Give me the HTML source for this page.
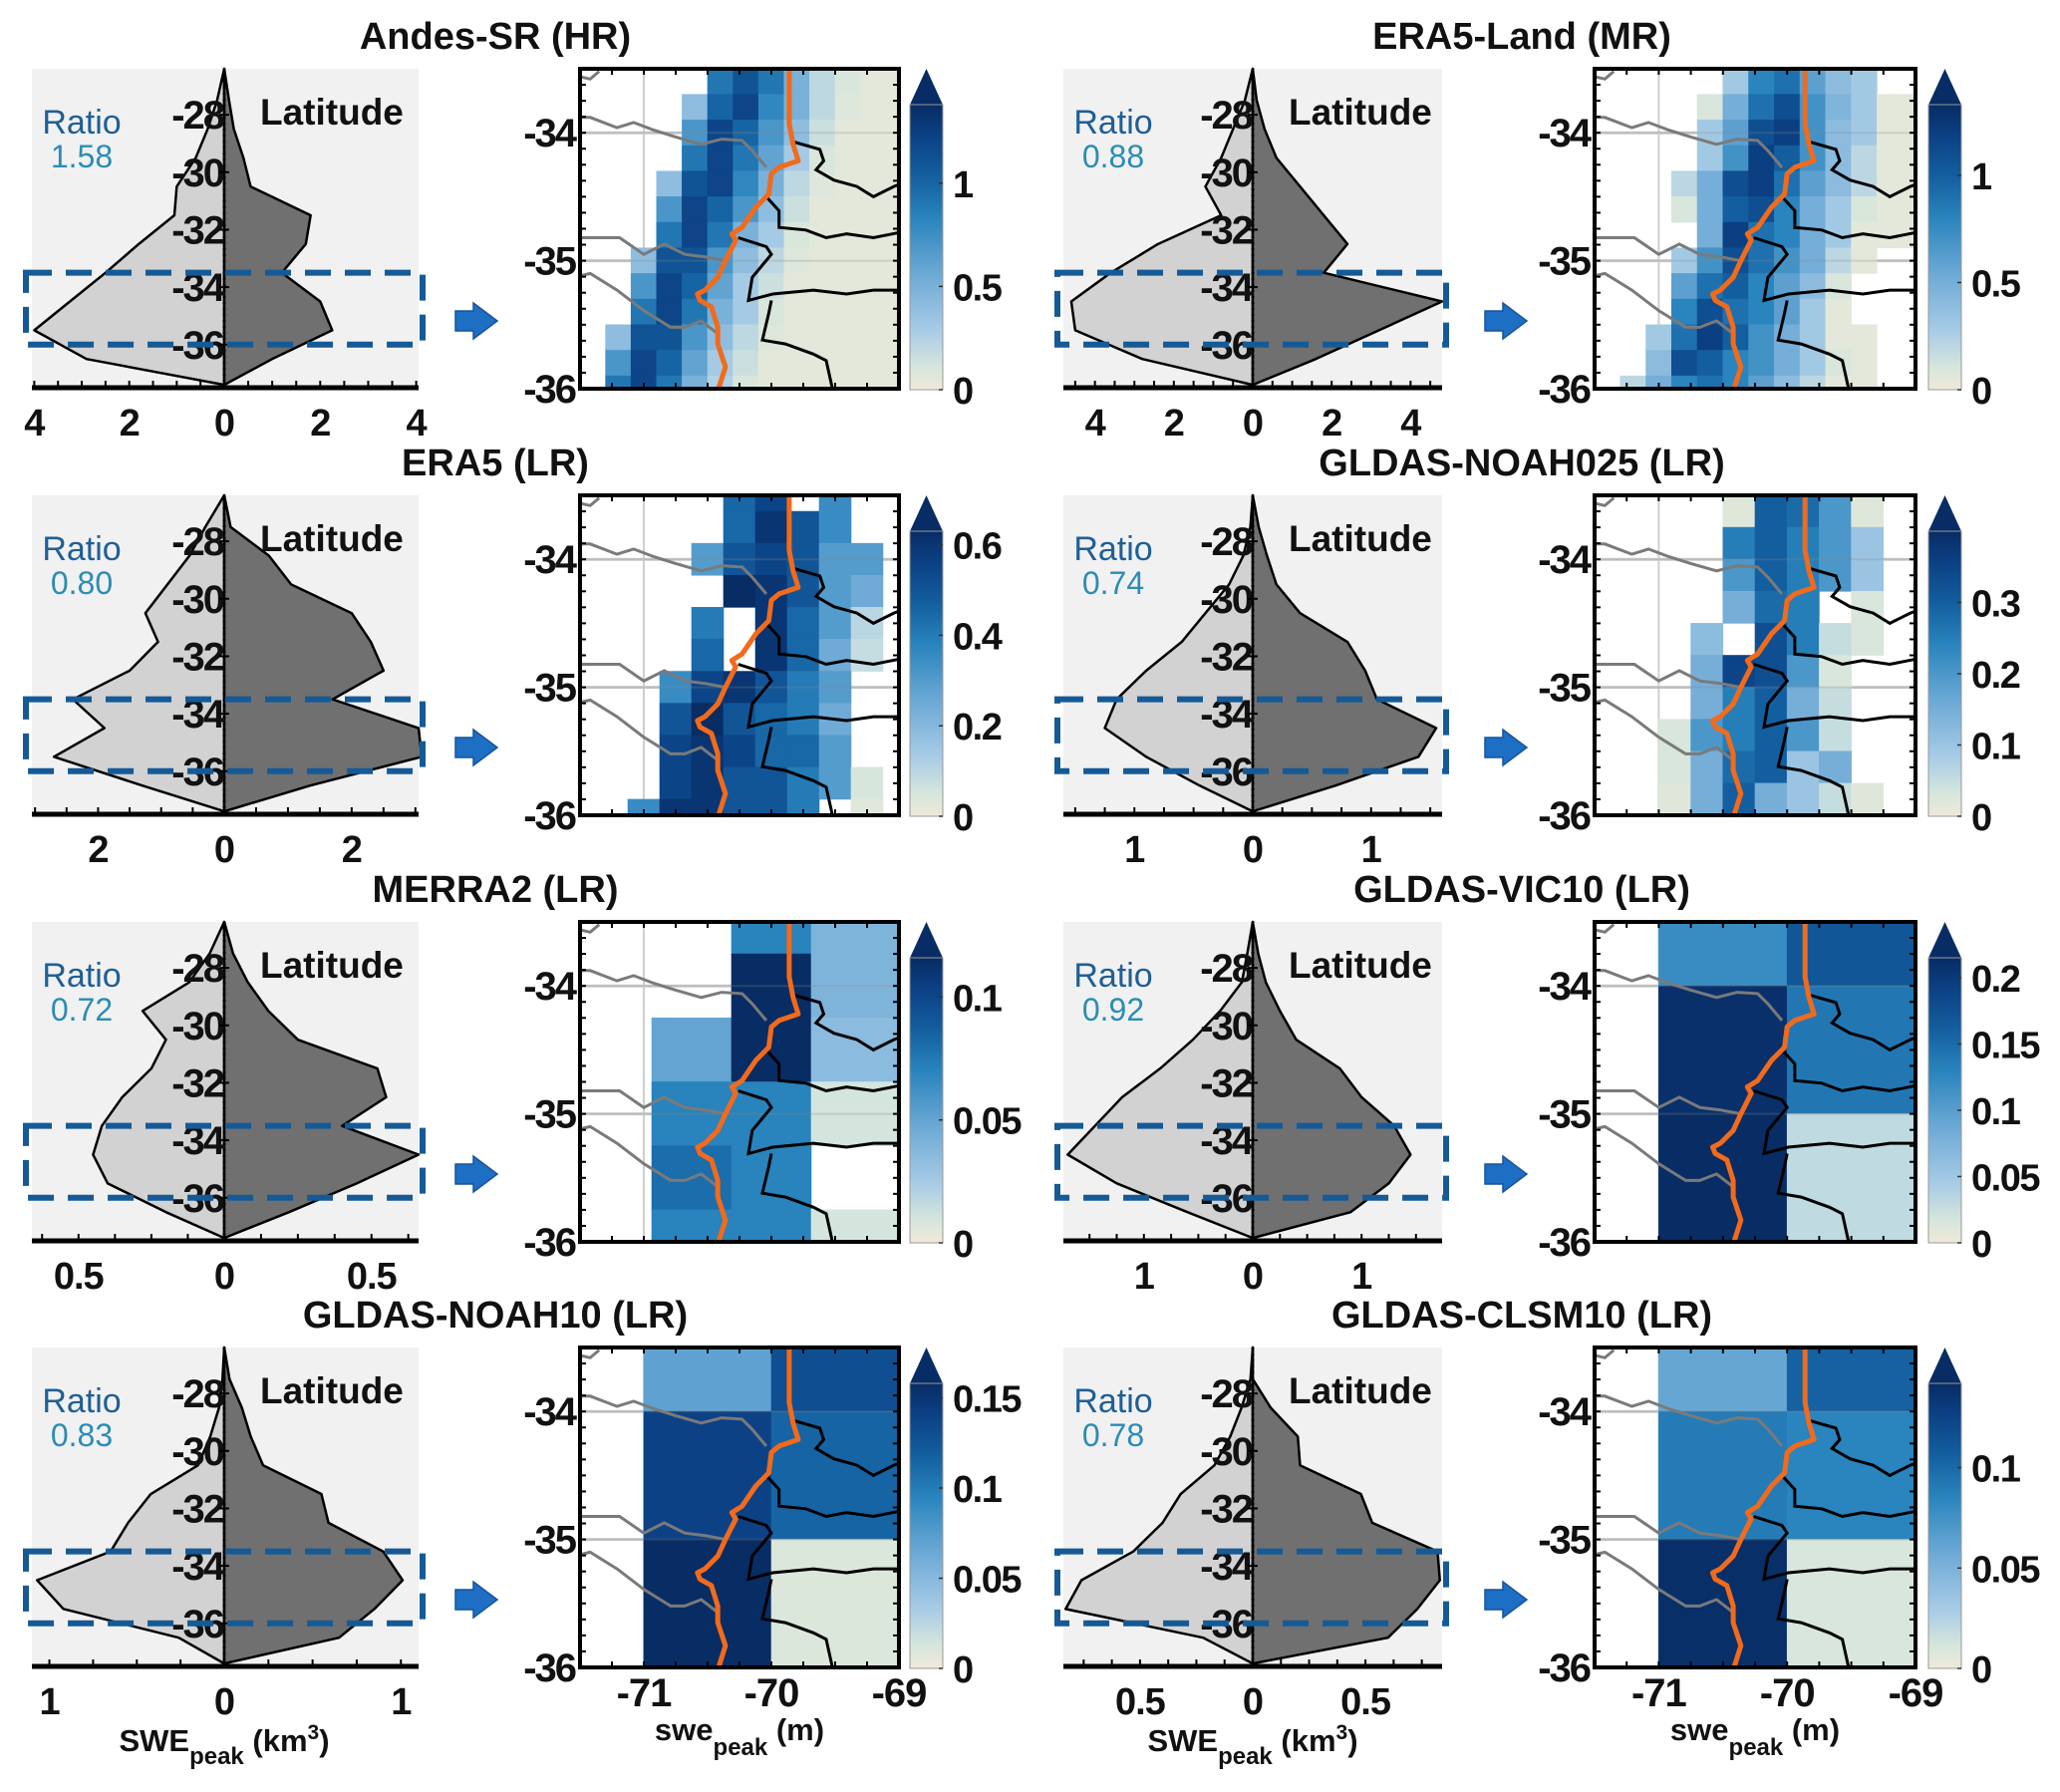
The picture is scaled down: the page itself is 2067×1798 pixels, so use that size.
<!DOCTYPE html>
<html><head><meta charset="utf-8">
<style>
html,body{margin:0;padding:0;background:#fff;}
svg{display:block;font-family:"Liberation Sans",Arial,sans-serif;}
</style></head>
<body>
<svg id="fig" xmlns="http://www.w3.org/2000/svg" width="2067" height="1798" viewBox="0 0 2067 1798"></svg>
<script>
// ---------- DATA ----------
const lats = [-26.4,-27.5,-28.5,-29.5,-30.5,-31.5,-32.5,-33.5,-34.5,-35.5,-36.5,-37.4];
const titles = ["Andes-SR (HR)","ERA5-Land (MR)","ERA5 (LR)","GLDAS-NOAH025 (LR)","MERRA2 (LR)","GLDAS-VIC10 (LR)","GLDAS-NOAH10 (LR)","GLDAS-CLSM10 (LR)"];
const ratios = ["1.58","0.88","0.80","0.74","0.72","0.92","0.83","0.78"];
const andesL = [0,0.15,0.35,0.6,1.0,1.05,1.8,2.5,3.25,4.0,2.9,0];
const andesR = [0,0.1,0.2,0.4,0.55,1.8,1.7,1.2,2.0,2.25,1.0,0];
const era5lL = [0,0.2,0.5,0.8,1.2,0.8,2.4,3.6,4.6,4.5,2.8,0];
const era5lR = [0,0.1,0.3,0.6,1.2,1.8,2.4,1.8,4.8,3.2,1.6,0];
const era5L = [0,0.3,0.55,0.9,1.25,1.05,1.5,2.4,1.9,2.7,1.3,0];
const era5R = [0,0.1,0.7,1.05,2.0,2.3,2.5,1.7,3.05,3.1,1.35,0];
const noah025L = [0,0.02,0.08,0.2,0.4,0.6,0.9,1.15,1.25,0.9,0.45,0];
const noah025R = [0,0.05,0.12,0.2,0.4,0.8,0.95,1.05,1.55,1.4,0.7,0];
const merraL = [0,0.05,0.12,0.28,0.2,0.25,0.35,0.42,0.45,0.4,0.2,0];
const merraR = [0,0.03,0.08,0.15,0.25,0.52,0.55,0.4,0.66,0.45,0.22,0];
const vicL = [0,0.05,0.1,0.3,0.55,0.85,1.2,1.45,1.7,1.25,0.6,0];
const vicR = [0,0.05,0.12,0.25,0.4,0.8,1.0,1.3,1.45,1.25,0.9,0];
const noah10L = [0,0.01,0.03,0.08,0.15,0.42,0.55,0.65,1.07,0.92,0.26,0];
const noah10R = [0,0.03,0.1,0.15,0.22,0.55,0.59,0.9,1.01,0.85,0.65,0];
const clsmL = [0,0.01,0.05,0.1,0.17,0.32,0.4,0.53,0.76,0.83,0.22,0];
const clsmR = [0,0,0.08,0.2,0.21,0.48,0.53,0.82,0.83,0.73,0.6,0];
const profXmax = [4.05,4.8,3.05,1.6,0.66,1.74,1.1,0.84];
const profTicks = [[-4,-2,0,2,4],[-4,-2,0,2,4],[-2,0,2],[-1,0,1],[-0.5,0,0.5],[-1,0,1],[-1,0,1],[-0.5,0,0.5]];
const cbMax = [1.38,1.33,0.63,0.4,0.116,0.215,0.158,0.142];
const cbTicks = [[0,0.5,1],[0,0.5,1],[0,0.2,0.4,0.6],[0,0.1,0.2,0.3],[0,0.05,0.1],[0,0.05,0.1,0.15,0.2],[0,0.05,0.1,0.15],[0,0.05,0.1]];
const latTicksProf = [-28,-30,-32,-34,-36];
const latTicksMap = [-34,-35,-36];
const lonTicksMap = [-71,-70,-69];
// grids
const lon02 = [-71.5,-71.3,-71.1,-70.9,-70.7,-70.5,-70.3,-70.1,-69.9,-69.7,-69.5,-69.3,-68.9];
const lat02 = [-33.5,-33.7,-33.9,-34.1,-34.3,-34.5,-34.7,-34.9,-35.1,-35.3,-35.5,-35.7,-35.9,-36.0];
const n = null;
const andesGrid = [
[n,n,n,n,n,.9,1.1,.9,.5,.2,.1,.05],
[n,n,n,n,.4,1.0,1.2,.8,.5,.2,.08,.05],
[n,n,n,n,.7,1.2,1.0,.7,.4,.15,.05,.05],
[n,n,n,n,.9,1.2,.9,.6,.3,.1,.05,.05],
[n,n,n,.4,1.1,1.2,.8,.5,.2,.08,.05,.05],
[n,n,n,.7,1.2,1.0,.7,.4,.15,.05,.05,.05],
[n,n,n,.9,1.2,.9,.5,.3,.1,.05,.05,.05],
[n,n,.4,1.1,1.1,.7,.4,.2,.08,.05,.05,.05],
[n,n,.7,1.2,1.0,.6,.3,.15,.05,.05,.05,.05],
[n,n,.9,1.2,.9,.5,.3,.1,.05,.05,.05,.05],
[n,.4,1.1,1.1,.7,.4,.2,.08,.05,.05,.05,.05],
[n,.7,1.2,1.0,.6,.3,.15,.05,.05,.05,.05,.05],
[n,.9,1.2,.9,.5,.25,.1,.05,.05,.05,.05,.05]];
const era5lGrid = [
[n,n,n,n,n,.3,.8,.9,.6,.4,.3,n],
[n,n,n,n,.1,.5,.9,1.1,.7,.45,.3,.05],
[n,n,n,n,.3,.6,1.1,1.2,.7,.4,.3,.05],
[n,n,n,n,.3,.7,1.2,1.0,.7,.4,.2,.05],
[n,n,n,.2,.5,1.1,1.2,.9,.6,.4,.2,.05],
[n,n,n,.1,.5,1.0,1.1,.8,.5,.3,.1,.05],
[n,n,n,n,.5,1.2,.9,.8,.5,.3,.05,.05],
[n,n,n,.3,.7,1.1,.9,.7,.5,.2,.05,n],
[n,n,n,.6,.9,1.0,.8,.6,.4,.1,n,n],
[n,n,n,.8,1.1,.9,.8,.6,.3,.05,n,n],
[n,n,.3,.9,1.2,1.0,.7,.5,.3,.05,.05,n],
[n,n,.4,1.1,1.0,.8,.7,.5,.3,.1,.05,n],
[n,.2,.5,.8,.9,.8,.6,.4,.2,.05,.05,n]];
const lonE5 = [-71.125,-70.875,-70.625,-70.375,-70.125,-69.875,-69.625,-69.375,-69.125,-68.875];
const latE5 = [-33.5,-33.625,-33.875,-34.125,-34.375,-34.625,-34.875,-35.125,-35.375,-35.625,-35.875,-36];
const era5Grid = [
[n,n,n,.45,.55,n,.35,n,n],
[n,n,n,.45,.6,.5,.35,n,n],
[n,n,.3,.5,.55,.5,.3,.3,n],
[n,n,n,.65,.6,.5,.3,.25,n],
[n,n,.4,n,.6,.45,.3,.1,n],
[n,n,.45,n,.6,.45,.25,.08,n],
[n,.35,.55,.6,.5,.4,.3,n,n],
[n,.5,.65,.5,.45,.4,.25,n,n],
[n,.55,.6,.55,.45,.45,.3,n,n],
[n,.55,.6,.5,.5,.4,.3,.05,n],
[.35,.6,.6,.5,.5,.4,n,.03,n]];
const lonN25 = [-71,-70.75,-70.5,-70.25,-70,-69.75,-69.5,-69.25];
const latN25 = [-33.5,-33.75,-34,-34.25,-34.5,-34.75,-35,-35.25,-35.5,-35.75,-36];
const noah025Grid = [
[n,n,.02,.3,.28,.2,.02],
[n,n,.25,.3,.25,.2,.1],
[n,n,.2,.3,.25,.2,.1],
[n,n,.15,.28,.25,n,.03],
[n,.12,n,.33,.25,.05,.03],
[n,.15,.35,.33,.2,.03,n],
[n,.15,.25,.3,.15,.05,n],
[.03,.2,.25,.3,.2,.05,n],
[.03,.15,.28,.3,.1,.15,n],
[.02,.15,.3,.15,.1,.05,.02]];
const lonM2 = [-70.9375,-70.3125,-69.6875,-69.0];
const latM2 = [-33.5,-33.75,-34.25,-34.75,-35.25,-35.75,-36];
const merraGrid = [[n,.07,.04],[n,.12,.04],[.05,.12,.035],[.07,.07,.01],[.08,.07,n],[.07,.07,.01]];
const lon1 = [-71,-70,-69];
const lat1 = [-33.5,-34,-35,-36];
const vicGrid = [[.12,.17],[.21,.14],[.22,.03]];
const noah10Grid = [[.07,.13],[.14,.115],[.17,.01]];
const clsmGrid = [[.06,.105],[.09,.085],[.14,.01]];
// geography (lon, lat)
const divideLine = [[-69.86,-33.45],[-69.86,-33.93],[-69.83,-34.09],[-69.79,-34.22],[-69.94,-34.27],[-70.0,-34.32],[-70.02,-34.48],[-70.12,-34.58],[-70.23,-34.74],[-70.31,-34.79],[-70.28,-34.84],[-70.36,-35.0],[-70.42,-35.13],[-70.52,-35.23],[-70.58,-35.26],[-70.56,-35.31],[-70.47,-35.36],[-70.42,-35.52],[-70.42,-35.65],[-70.36,-35.83],[-70.42,-36.02]];
const blackLines = [
[[-69.83,-34.07],[-69.62,-34.13],[-69.59,-34.22],[-69.65,-34.29],[-69.51,-34.37],[-69.33,-34.42],[-69.2,-34.5],[-69.04,-34.42],[-68.9,-34.37]],
[[-70.04,-34.5],[-69.94,-34.61],[-69.94,-34.74],[-69.73,-34.76],[-69.57,-34.82],[-69.41,-34.79],[-69.2,-34.82],[-68.9,-34.76]],
[[-70.26,-34.82],[-70.04,-34.89],[-70.0,-34.95],[-70.15,-35.13],[-70.18,-35.31],[-69.99,-35.26],[-69.67,-35.23],[-69.41,-35.26],[-69.2,-35.23],[-68.9,-35.23]],
[[-70.0,-35.31],[-70.02,-35.41],[-70.07,-35.62],[-69.89,-35.65],[-69.67,-35.73],[-69.57,-35.78],[-69.51,-36.05]]];
const grayLines = [
[[-71.55,-33.88],[-71.42,-33.88],[-71.21,-33.96],[-71.08,-33.92],[-70.92,-33.98],[-70.76,-34.03],[-70.55,-34.09],[-70.39,-34.05],[-70.23,-34.06],[-70.15,-34.14],[-70.04,-34.27]],
[[-71.55,-34.82],[-71.37,-34.82],[-71.19,-34.82],[-71.0,-34.95],[-70.84,-34.87],[-70.68,-34.95],[-70.52,-34.97],[-70.36,-35.0]],
[[-71.55,-35.13],[-71.42,-35.1],[-71.21,-35.23],[-71.0,-35.39],[-70.79,-35.52],[-70.68,-35.52],[-70.55,-35.47],[-70.42,-35.57]],
[[-71.55,-33.55],[-71.42,-33.58],[-71.35,-33.52]]];

// ---------- LAYOUT ----------
const profL=[andesL,era5lL,era5L,noah025L,merraL,vicL,noah10L,clsmL];
const profR=[andesR,era5lR,era5R,noah025R,merraR,vicR,noah10R,clsmR];
const grids=[[lon02,lat02,andesGrid],[lon02,lat02,era5lGrid],[lonE5,latE5,era5Grid],[lonN25,latN25,noah025Grid],[lonM2,latM2,merraGrid],[lon1,lat1,vicGrid],[lon1,lat1,noah10Grid],[lon1,lat1,clsmGrid]];
const rowTop=[69,497,925,1352];
const colGeom=[{px0:32,px1:420,pz:225,mx0:582,mx1:902,cx0:913,cx1:946,ax:457,tx:497},
               {px0:1067,px1:1447,pz:1257,mx0:1600,mx1:1922,cx0:1935,cx1:1968,ax:1490,tx:1527}];
const H=322;
const NS="http://www.w3.org/2000/svg";
const svg=document.getElementById('fig');
function el(tag,attrs,parent){const e=document.createElementNS(NS,tag);for(const k in attrs)e.setAttribute(k,attrs[k]);(parent||svg).appendChild(e);return e;}
function nm(e,name,inter){
  
  
}
function txt(s,attrs,parent){const t=el('text',attrs,parent);t.textContent=s;return t;}
const stops=[[0,[239,233,217]],[0.08,[214,230,220]],[0.2,[170,205,230]],[0.4,[110,170,214]],[0.6,[42,132,189]],[0.75,[19,94,159]],[0.9,[11,63,130]],[1,[8,44,100]]];
function cmap(t){t=Math.max(0,Math.min(1,t));for(let i=1;i<stops.length;i++){if(t<=stops[i][0]){const a=stops[i-1],b=stops[i];const f=(t-a[0])/(b[0]-a[0]);const c=a[1].map((v,j)=>Math.round(v+(b[1][j]-v)*f));return `rgb(${c[0]},${c[1]},${c[2]})`;}}return 'rgb(8,44,100)';}
const defs=el('defs',{});
const grad=el('linearGradient',{id:'cbgrad',x1:0,y1:1,x2:0,y2:0},defs);
stops.forEach(s=>{el('stop',{offset:s[0],'stop-color':cmap(s[0])},grad);});

for(let p=0;p<8;p++){
  const row=Math.floor(p/2), col=p%2, g=colGeom[col], top=rowTop[row];
  const grp=el('g',{});
  nm(grp,'panel-'+titles[p].toLowerCase().replace(/[^a-z0-9]+/g,'-').replace(/-$/,''),false);
  const t=txt(titles[p],{x:g.tx,y:top-20,'text-anchor':'middle','font-size':38,'font-weight':'bold',fill:'#111'},grp);
  nm(t,'panel-title',false);
  // ----- profile -----
  const yP=lat=>top+(-26.4-lat)/11.1*(H-2);
  const hw=(g.px1-g.pz), hwl=(g.pz-g.px0);
  const xl=v=>g.pz-v/profXmax[p]*hwl, xr=v=>g.pz+v/profXmax[p]*hw;
  const bg=el('rect',{x:g.px0,y:top,width:g.px1-g.px0,height:H-2,fill:'#f1f1f1'},grp);
  nm(bg,'profile-plot-area',false);
  let ptsL=lats.map((la,i)=>`${xl(profL[p][i])},${yP(la)}`).join(' ');
  const pl=el('polygon',{points:ptsL,fill:'#d2d2d2',stroke:'#000','stroke-width':2.5,'stroke-linejoin':'round'},grp);
  nm(pl,'profile-left-area',false);
  let ptsR=lats.map((la,i)=>`${xr(profR[p][i])},${yP(la)}`).join(' ');
  const pr=el('polygon',{points:ptsR,fill:'#707070',stroke:'#000','stroke-width':2.5,'stroke-linejoin':'round'},grp);
  nm(pr,'profile-right-area',false);
  const zl=el('line',{x1:g.pz,y1:top,x2:g.pz,y2:top+H-2,stroke:'#000','stroke-width':3,'stroke-dasharray':'2 4'},grp);
  nm(zl,'zero-line',false);
  latTicksProf.forEach(la=>{
    const tl=txt(String(la),{x:g.pz-1,y:yP(la)+14,'text-anchor':'end','font-size':40,'font-weight':'bold',fill:'#111','letter-spacing':'-2'},grp);
    nm(tl,'latitude-tick-label',false);
    el('line',{x1:g.pz-5,y1:yP(la),x2:g.pz+5,y2:yP(la),stroke:'#000','stroke-width':2},grp);
  });
  const lt=txt('Latitude',{x:g.pz+36,y:top+56,'font-size':37,'font-weight':'bold',fill:'#111'},grp);
  nm(lt,'latitude-label',false);
  const r1=txt('Ratio',{x:g.px0+50,y:top+65,'text-anchor':'middle','font-size':34,fill:'#1f5f96'},grp);
  nm(r1,'ratio-label',false);
  const r2=txt(ratios[p],{x:g.px0+50,y:top+99,'text-anchor':'middle','font-size':32,fill:'#2a8db5'},grp);
  nm(r2,'ratio-value',false);
  const ax=el('line',{x1:g.px0,y1:top+H-2,x2:g.px1,y2:top+H-2,stroke:'#000','stroke-width':5},grp);
  nm(ax,'profile-x-axis',false);
  const step=(profTicks[p][1]-profTicks[p][0])/4;
  for(let v=0;v<=profXmax[p]+1e-9;v+=step){[xl(v),xr(v)].forEach(x=>el('line',{x1:x,y1:top+H-2,x2:x,y2:top+H-9,stroke:'#000','stroke-width':2},grp));}
  profTicks[p].forEach(v=>{
    const x=v<0?xl(-v):xr(v);
    const tk=txt(String(Math.abs(v)),{x:x,y:top+H+46,'text-anchor':'middle','font-size':38,'font-weight':'bold',fill:'#111','letter-spacing':'-1'},grp);
    nm(tk,'profile-x-tick-label',false);
  });
  const box=el('rect',{x:g.px0-6,y:yP(-33.5),width:g.px1-g.px0+10,height:yP(-36)-yP(-33.5),fill:'none',stroke:'#155a96','stroke-width':6,'stroke-dasharray':'26 14'},grp);
  nm(box,'focus-region-box',false);
  // ----- arrow -----
  const ay=top+253, a0=g.ax;
  const arr=el('polygon',{points:`${a0},${ay-10} ${a0+18},${ay-10} ${a0+18},${ay-18} ${a0+42},${ay} ${a0+18},${ay+18} ${a0+18},${ay+10} ${a0},${ay+10}`,fill:'#1d6fc4',stroke:'#17539a','stroke-width':1.5},grp);
  nm(arr,'arrow',false);
  // ----- map -----
  const mw=g.mx1-g.mx0, mh=H-1;
  const X=lon=>g.mx0+(lon+71.5)/2.5*mw, Y=lat=>top+(-33.5-lat)/2.5*mh;
  const cid='clip'+p;
  const cp=el('clipPath',{id:cid},defs); el('rect',{x:g.mx0,y:top,width:mw,height:mh},cp);
  const mg=el('g',{'clip-path':`url(#${cid})`},grp);
  nm(mg,'map',false);
  el('rect',{x:g.mx0,y:top,width:mw,height:mh,fill:'#fff'},mg);
  [-71,-70].forEach(lo=>el('line',{x1:X(lo),y1:top,x2:X(lo),y2:top+mh,stroke:'#cfcfcf','stroke-width':2},mg));
  [-34,-35].forEach(la=>el('line',{x1:g.mx0,y1:Y(la),x2:g.mx1,y2:Y(la),stroke:'#cfcfcf','stroke-width':3},mg));
  const [lonE,latE,vals]=grids[p];
  for(let r=0;r<vals.length;r++)for(let c=0;c<vals[r].length;c++){
    const v=vals[r][c]; if(v===null)continue;
    const col_=cmap(v/cbMax[p]);
    const cell=el('rect',{x:X(lonE[c]),y:Y(latE[r]),width:X(lonE[c+1])-X(lonE[c]),height:Y(latE[r+1])-Y(latE[r]),fill:col_,stroke:col_,'stroke-width':0.6},mg);
    nm(cell,'swe-cell',false);
  }
  [-34,-35].forEach(la=>el('line',{x1:g.mx0,y1:Y(la),x2:g.mx1,y2:Y(la),stroke:'#888','stroke-width':2,opacity:0.25},mg));
  const pathOf=pts=>'M'+pts.map(q=>`${X(q[0]).toFixed(1)},${Y(q[1]).toFixed(1)}`).join('L');
  grayLines.forEach(l=>{const e=el('path',{d:pathOf(l),fill:'none',stroke:'#7a7a7a','stroke-width':3},mg);nm(e,'basin-boundary-west',false);});
  blackLines.forEach(l=>{const e=el('path',{d:pathOf(l),fill:'none',stroke:'#000','stroke-width':3},mg);nm(e,'basin-boundary-east',false);});
  const dv=el('path',{d:pathOf(divideLine),fill:'none',stroke:'#f26a1b','stroke-width':5,'stroke-linejoin':'round'},mg);
  nm(dv,'continental-divide',false);
  const fr=el('rect',{x:g.mx0,y:top,width:mw,height:mh,fill:'none',stroke:'#000','stroke-width':4},grp);
  nm(fr,'map-frame',false);
  for(let lo=-71.5;lo<=-69.0;lo+=0.25){el('line',{x1:X(lo),y1:top,x2:X(lo),y2:top+6,stroke:'#000','stroke-width':2},grp);el('line',{x1:X(lo),y1:top+mh,x2:X(lo),y2:top+mh-6,stroke:'#000','stroke-width':2},grp);}
  for(let la=-33.5;la>=-36;la-=0.125){el('line',{x1:g.mx0,y1:Y(la),x2:g.mx0+6,y2:Y(la),stroke:'#000','stroke-width':2},grp);el('line',{x1:g.mx1,y1:Y(la),x2:g.mx1-6,y2:Y(la),stroke:'#000','stroke-width':2},grp);}
  latTicksMap.forEach(la=>{const e=txt(String(la),{x:g.mx0-5,y:Y(la)+14,'text-anchor':'end','font-size':40,'font-weight':'bold',fill:'#111','letter-spacing':'-2'},grp);nm(e,'map-lat-tick-label',false);});
  if(row===3){
    lonTicksMap.forEach(lo=>{const e=txt(String(lo),{x:X(lo),y:top+H+38,'text-anchor':'middle','font-size':40,'font-weight':'bold',fill:'#111','letter-spacing':'-1'},grp);nm(e,'map-lon-tick-label',false);});
    const xl1=txt('',{x:g.pz,y:top+H+83,'text-anchor':'middle','font-size':31,'font-weight':'bold',fill:'#111'},grp);
    xl1.innerHTML='SWE<tspan dy="13" font-size="24">peak</tspan><tspan dy="-13"> (km</tspan><tspan dy="-12" font-size="21">3</tspan><tspan dy="12">)</tspan>';
    nm(xl1,'profile-x-axis-title',false);
    const xl2=txt('',{x:(g.mx0+g.mx1)/2,y:top+H+72,'text-anchor':'middle','font-size':31,'font-weight':'bold',fill:'#111'},grp);
    xl2.innerHTML='swe<tspan dy="15" font-size="24">peak</tspan><tspan dy="-15"> (m)</tspan>';
    nm(xl2,'map-colorbar-title',false);
  }
  // ----- colorbar -----
  const cbTop=top+36, cbBot=top+H, cw=g.cx1-g.cx0;
  const tri=el('polygon',{points:`${g.cx0},${cbTop} ${g.cx0+cw/2},${top} ${g.cx1},${cbTop}`,fill:'#082c64'},grp);
  nm(tri,'colorbar-extend-arrow',false);
  const cb=el('rect',{x:g.cx0,y:cbTop,width:cw,height:cbBot-cbTop,fill:'url(#cbgrad)',stroke:'#999','stroke-width':1},grp);
  nm(cb,'colorbar',false);
  const cY=v=>cbBot-v/cbMax[p]*(cbBot-cbTop);
  cbTicks[p].forEach(v=>{
    el('line',{x1:g.cx1-4,y1:cY(v),x2:g.cx1,y2:cY(v),stroke:'#333','stroke-width':1.5},grp);
    const e=txt(String(v),{x:g.cx1+10,y:cY(v)+14,'font-size':38,'font-weight':'bold',fill:'#111','letter-spacing':'-1.5'},grp);
    nm(e,'colorbar-tick-label',false);
  });
}
</script>
</body></html>
